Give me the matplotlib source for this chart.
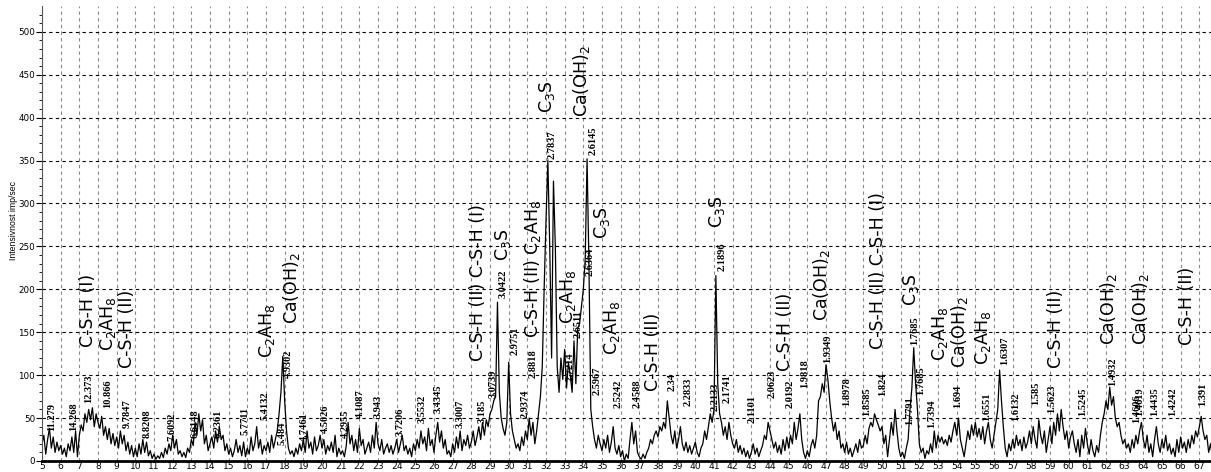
import matplotlib
matplotlib.use("Agg")
import matplotlib.pyplot as plt
import numpy as np

# 2-theta grid start/step (0.1 deg)
two_theta_start = 5.0
two_theta_step = 0.1

# Intensity (imp/sec) in 0.1 deg steps
i_05_15 = [
    20, 30, 8, 25, 38, 15, 28, 10, 22, 12,      # 5
    18, 8, 15, 5, 20, 12, 28, 10, 35, 5,        # 6
    30, 42, 35, 55, 45, 60, 48, 62, 40, 55,     # 7
    45, 38, 52, 30, 40, 25, 38, 20, 32, 18,     # 8
    28, 15, 35, 20, 30, 12, 22, 8, 18, 5,       # 9
    15, 5, 20, 8, 25, 10, 22, 6, 12, 3,         # 10
    8, 2, 6, 3, 10, 4, 15, 8, 20, 12,           # 11
    30, 15, 25, 8, 12, 5, 10, 4, 15, 10,        # 12
    25, 18, 45, 30, 55, 35, 48, 20, 30, 12,     # 13
    20, 28, 15, 35, 22, 40, 25, 30, 12, 20,     # 14
]
i_15_25 = [
    8, 15, 5, 12, 25, 10, 18, 6, 22, 5,         # 15
    15, 8, 28, 12, 20, 40, 15, 25, 8, 18,       # 16
    12, 22, 10, 30, 15, 25, 35, 55, 80, 122,    # 17
    70, 35, 15, 8, 12, 5, 15, 8, 20, 12,        # 18
    25, 10, 35, 15, 22, 8, 28, 12, 18, 30,      # 19
    15, 25, 8, 18, 12, 22, 10, 30, 5, 15,       # 20
    8, 12, 5, 18, 45, 20, 30, 12, 25, 10,       # 21
    38, 18, 25, 8, 15, 22, 10, 30, 15, 45,      # 22
    20, 12, 25, 8, 15, 20, 10, 18, 8, 15,       # 23
    25, 10, 20, 30, 12, 18, 8, 15, 5, 20,       # 24
]
i_25_35 = [
    12, 25, 15, 35, 20, 28, 12, 38, 18, 25,     # 25
    10, 30, 45, 22, 35, 15, 25, 8, 12, 5,       # 26
    20, 10, 28, 15, 35, 12, 25, 18, 30, 15,     # 27
    22, 35, 18, 28, 40, 25, 45, 30, 48, 40,     # 28
    55, 60, 70, 75, 185, 80, 50, 38, 30, 45,    # 29
    115, 55, 35, 25, 15, 20, 12, 28, 18, 35,    # 30
    25, 50, 30, 45, 20, 35, 55, 75, 110, 200,   # 31
    280, 350, 250, 120, 326, 250, 110, 80, 120, 95,   # 32
    130, 85, 115, 100, 80, 140, 90, 155, 160, 180,    # 33
    200, 235, 352, 230, 60, 40, 25, 15, 30, 20,       # 34
]
i_35_45 = [
    12, 25, 15, 30, 10, 22, 40, 15, 8, 18,      # 35
    5, 12, 0, 8, 3, 25, 45, 20, 35, 10,         # 36
    5, 2, 8, 3, 10, 15, 25, 20, 30, 35,         # 37
    28, 40, 35, 45, 38, 70, 50, 30, 20, 35,     # 38
    15, 25, 40, 20, 12, 22, 10, 18, 8, 15,      # 39
    22, 10, 5, 15, 20, 35, 25, 40, 55, 45,      # 40
    60, 216, 90, 55, 45, 30, 40, 25, 45, 30,    # 41
    20, 15, 25, 10, 18, 8, 15, 5, 12, 3,        # 42
    10, 20, 8, 15, 5, 12, 18, 30, 25, 45,       # 43
    35, 25, 15, 22, 10, 18, 8, 25, 12, 28,      # 44
]
i_45_55 = [
    15, 30, 20, 45, 25, 38, 55, 25, 10, 3,      # 45
    12, 5, 18, 25, 15, 30, 70, 75, 90, 80,      # 46
    112, 95, 70, 50, 35, 45, 25, 35, 15, 20,    # 47
    10, 22, 8, 15, 5, 12, 20, 10, 25, 15,       # 48
    18, 30, 20, 38, 45, 40, 55, 48, 42, 35,     # 49
    40, 20, 30, 5, 25, 45, 30, 60, 35, 15,      # 50
    5, 10, 3, 15, 25, 60, 85, 132, 90, 60,      # 51
    20, 10, 15, 3, 12, 8, 20, 10, 35, 15,       # 52
    30, 22, 28, 20, 25, 18, 30, 22, 35, 45,     # 53
    30, 50, 25, 15, 5, 20, 35, 25, 42, 30,      # 54
]
i_55_68 = [
    45, 28, 38, 25, 40, 20, 35, 45, 25, 15,     # 55
    30, 45, 60, 106, 70, 40, 15, 5, 20, 12,     # 56
    25, 15, 30, 18, 25, 12, 28, 15, 22, 35,     # 57
    20, 40, 25, 15, 48, 30, 20, 35, 10, 25,     # 58
    40, 20, 45, 30, 55, 35, 60, 40, 25, 35,     # 59
    15, 28, 35, 20, 10, 25, 5, 30, 15, 38,      # 60
    20, 8, 25, 12, 5, 18, 10, 30, 45, 55,       # 61
    70, 60, 86, 65, 75, 50, 40, 45, 30, 20,     # 62
    25, 15, 20, 10, 25, 15, 30, 20, 35, 45,     # 63
    25, 15, 30, 10, 20, 5, 25, 40, 20, 10,      # 64
    25, 15, 30, 12, 20, 8, 15, 5, 25, 10,       # 65
    28, 15, 22, 10, 25, 15, 30, 20, 35, 28,     # 66
    40, 52, 35, 25, 30, 10, 20, 5, 15, 8,       # 67
]

# d-spacing peak labels: text, 2-theta, intensity at label base
d_text = ["11.279", "14.268", "12.373", "10.866", "9.7847", "8.8208", "7.6092",
          "6.6148", "6.2361", "5.7711", "5.4132", "5.484", "4.9302", "4.7461",
          "4.5026", "4.2955", "4.1087", "3.943", "3.7206", "3.5532", "3.4345",
          "3.3007", "3.185", "3.0739", "3.0422", "2.9751", "2.9374", "2.8818",
          "2.7837", "2.7214", "2.6511", "2.6364", "2.6145", "2.5967", "2.5242",
          "2.4588", "2.34", "2.2833", "2.2133", "2.1896", "2.1741", "2.1101",
          "2.0623", "2.0192", "1.9818", "1.9349", "1.8978", "1.8585", "1.824",
          "1.7791", "1.7685", "1.7685", "1.7394", "1.694", "1.6551", "1.6307",
          "1.6132", "1.585", "1.5623", "1.5245", "1.4932", "1.4606", "1.4619",
          "1.4435", "1.4242", "1.391"]
d_x = [5.54, 6.71, 7.52, 8.54, 9.55, 10.62, 11.96,
       13.2, 14.43, 15.87, 16.94, 17.86, 18.2, 19.03,
       20.16, 21.23, 22.03, 23.0, 24.18, 25.35, 26.21,
       27.39, 28.57, 29.16, 29.69, 30.33, 30.87, 31.3,
       32.32, 33.28, 33.71, 34.35, 34.51, 34.73, 35.85,
       36.87, 38.74, 39.6, 41.05, 41.42, 41.69, 43.03,
       44.1, 45.06, 45.87, 47.1, 48.12, 49.19, 50.05,
       51.49, 51.76, 52.08, 52.67, 54.06, 55.62, 56.58,
       57.17, 58.24, 59.1, 60.76, 62.37, 63.65, 63.81,
       64.62, 65.58, 67.19]
d_y = [35, 35, 67, 62, 38, 27, 23,
       27, 27, 30, 48, 19, 97, 23,
       33, 27, 50, 50, 29, 44, 56,
       38, 44, 73, 190, 123, 50, 97,
       352, 93, 143, 215, 356, 77, 62,
       62, 81, 64, 58, 221, 67, 44,
       73, 62, 85, 114, 64, 53, 76,
       42, 135, 77, 38, 62, 47, 112,
       47, 65, 56, 52, 87, 44, 53,
       52, 53, 64]

# Phase labels: text, 2-theta, intensity at label base
CSH1 = "C-S-H (I)"
CSH2 = "C-S-H (II)"
C2AH8 = r"C$_2$AH$_8$"
C3S = r"C$_3$S"
CH = r"Ca(OH)$_2$"
phase_text = [CSH1, C2AH8, CSH2, C2AH8, CH, CSH2 + " " + CSH1, C3S,
              CSH2 + " " + C2AH8, C3S, CH, C2AH8, C3S, C2AH8, CSH2, C3S,
              CSH2, CH, CSH2 + " " + CSH1, C3S, C2AH8, CH, C2AH8, CSH2,
              CH, CH, CSH2]
phase_x = [7.46, 8.54, 9.55, 17.05, 18.34, 28.35, 29.69,
           31.3, 32.05, 33.92, 33.17, 34.99, 35.53, 37.73, 41.15,
           44.8, 46.78, 49.78, 51.55, 53.1, 54.17, 55.4, 59.31,
           62.15, 63.86, 66.33]
phase_y = [133, 128, 108, 120, 160, 116, 233,
           143, 405, 401, 160, 259, 123, 81, 271,
           105, 163, 131, 180, 116, 108, 112, 108,
           135, 135, 135]

intensity = np.array(i_05_15 + i_15_25 + i_25_35 + i_35_45 + i_45_55 + i_55_68, dtype=float)
two_theta = two_theta_start + two_theta_step * np.arange(len(intensity))

W, H = 1211, 472
fig = plt.figure(figsize=(W / 100, H / 100), dpi=100)
x0, x1 = 42, 1218
y0, ytop = 461, 6
ax = fig.add_axes([x0 / W, (H - y0) / H, (x1 - x0) / W, (y0 - ytop) / H])
ax.set_xlim(5, 68)
ax.set_ylim(0, 530)

# grid
for xv in range(6, 68):
    ax.axvline(xv, color="#8a8a8a", lw=0.8, ls=(0, (3, 3)), zorder=0)
for yv in range(50, 501, 50):
    ax.axhline(yv, color="black", lw=0.8, ls=(0, (3, 3)), zorder=0)

ax.plot(two_theta, intensity, color="black", lw=0.9, zorder=2)

ax.set_xticks(range(5, 69))
ax.set_yticks(range(0, 501, 50))
ax.set_yticks(range(0, 521, 10), minor=True)
ax.tick_params(axis="x", labelsize=6.6, length=0, pad=0.5)
ax.tick_params(axis="y", which="major", labelsize=6.3, length=4, pad=1, width=0.8)
ax.tick_params(axis="y", which="minor", length=2.5, width=0.6)
for s in ("top", "right"):
    ax.spines[s].set_visible(False)
ax.spines["bottom"].set_linewidth(2)
ax.spines["left"].set_linewidth(0.8)
ax.spines["left"].set_color("#555555")

fig.text(14 / W, 1 - 220 / H, "Intensivnost imp/sec", rotation=90, ha="center",
         va="center", fontsize=6.2, family="Liberation Sans")

for t, xv, yv in zip(d_text, d_x, d_y):
    ax.text(xv, yv, t, rotation=90, ha="center", va="bottom", fontsize=7.5,
            family="Liberation Serif", fontweight="bold", zorder=3)

for t, xv, yv in zip(phase_text, phase_x, phase_y):
    ax.text(xv, yv, t, rotation=90, ha="center", va="bottom", fontsize=12.5,
            family="DejaVu Sans", zorder=3)

fig.savefig("out.png", dpi=100)
